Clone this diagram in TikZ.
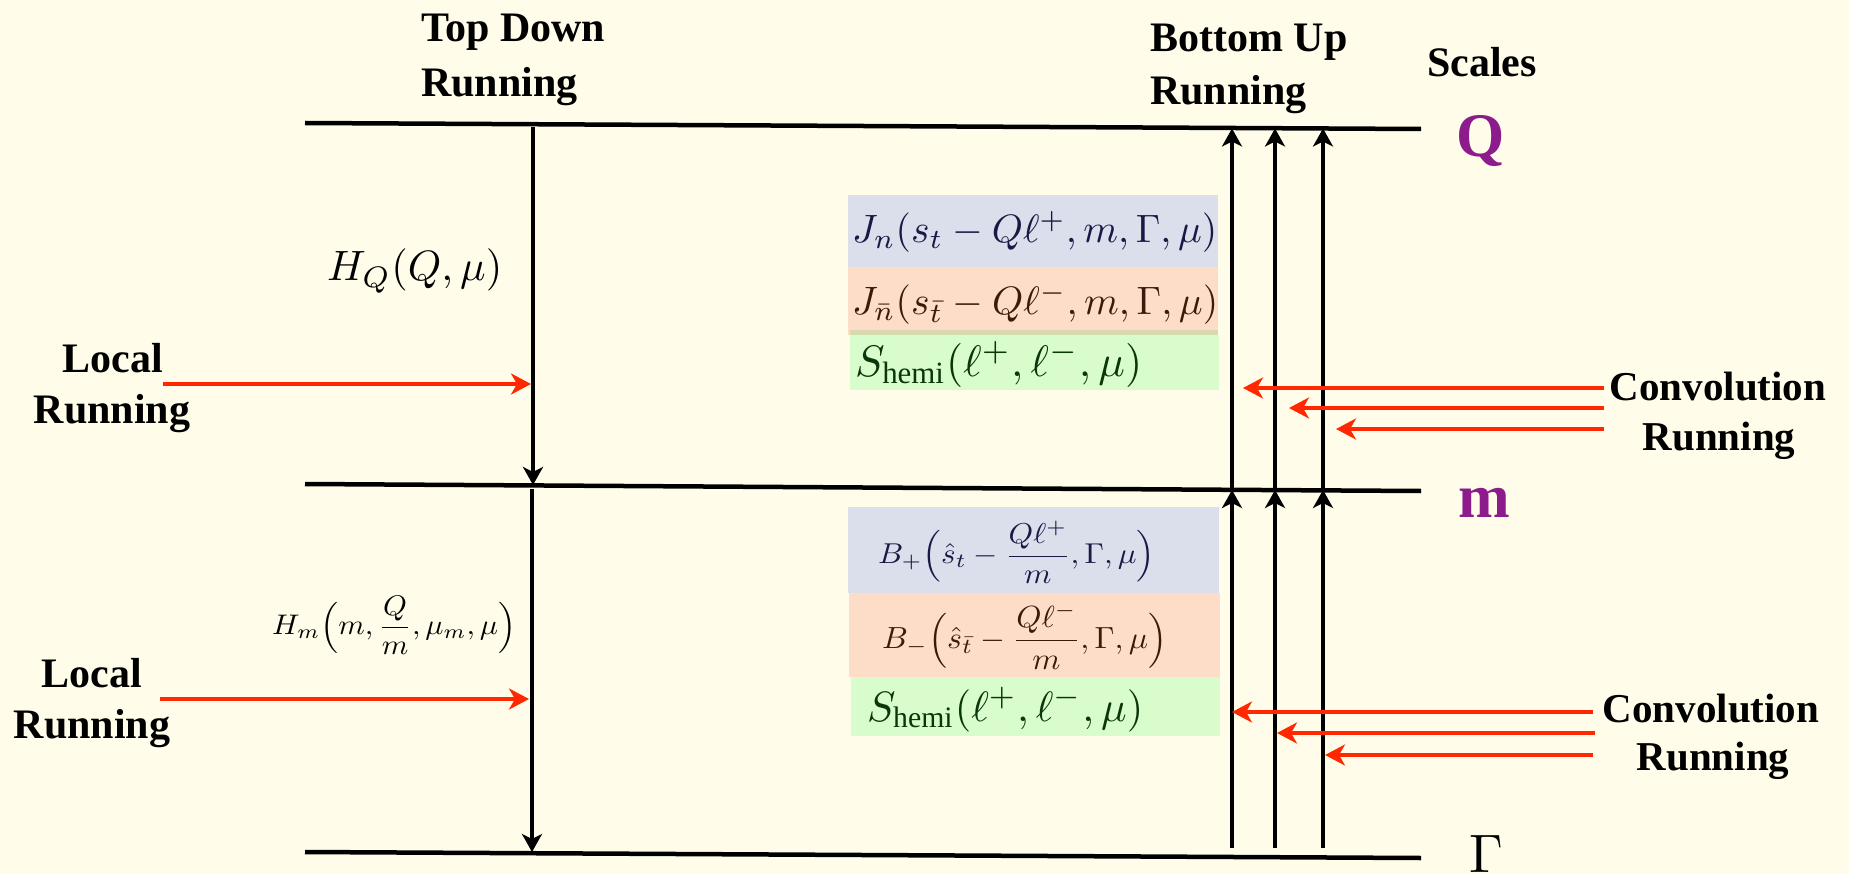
\documentclass[tikz,border=0pt]{standalone}
\usepackage{fontspec}
\setmainfont{Liberation Serif}
\usepackage{amsmath}
\usepackage{graphicx}
\usetikzlibrary{arrows.meta}
\definecolor{bg}{RGB}{255,253,233}
\definecolor{boxblue}{RGB}{218,223,235}
\definecolor{boxorange}{RGB}{253,221,200}
\definecolor{boxgreen}{RGB}{217,252,204}
\definecolor{stripolive}{RGB}{214,218,172}
\definecolor{redarrow}{RGB}{255,40,0}
\definecolor{scalepurple}{RGB}{140,28,140}
\definecolor{txtblue}{RGB}{25,25,70}
\definecolor{txtbrown}{RGB}{60,25,10}
\definecolor{txtgreen}{RGB}{10,55,10}
\begin{document}
\begin{tikzpicture}[x=1pt,y=-1pt,
  lbl/.style={inner sep=0pt, font=\fontsize{42}{50}\selectfont\bfseries},
  convlbl/.style={inner sep=0pt, font=\fontsize{41}{50}\selectfont\bfseries},
  scalelbl/.style={inner sep=0pt, text=scalepurple, font=\fontsize{62}{70}\selectfont\bfseries},
  scaleline/.style={line width=4.5pt, black},
  flowarrow/.style={line width=4pt, black, -{Stealth[length=18pt,width=20pt,inset=5pt]}},
  redarr/.style={line width=4.5pt, redarrow, -{Stealth[length=20pt,width=21pt,inset=6pt]}},
  mathlbl/.style={inner sep=0pt},
  colbox/.style={inner sep=0pt, anchor=north west}
]
\useasboundingbox (0,0) rectangle (1849,874);
\fill[bg] (0,0) rectangle (1849,874);

% scale lines
\coordinate (QL) at (305,123); \coordinate (QR) at (1421,129);
\coordinate (mL) at (305,484); \coordinate (mR) at (1421,491);
\coordinate (GL) at (305,852); \coordinate (GR) at (1421,858);
\draw[scaleline] (QL) -- (QR);
\draw[scaleline] (mL) -- (mR);
\draw[scaleline] (GL) -- (GR);

% colored boxes (upper)
\node[colbox, fill=boxblue, minimum width=370pt, minimum height=72pt] (bJn) at (848,195) {};
\node[colbox, fill=boxorange, minimum width=370pt, minimum height=68pt] (bJnb) at (848,267) {};
\node[colbox, fill=boxgreen, minimum width=369pt, minimum height=55pt] (bS1) at (850,335) {};
\node[colbox, fill=stripolive, minimum width=368pt, minimum height=5pt] (strip) at (850,330) {};
% colored boxes (lower)
\node[colbox, fill=boxblue, minimum width=371pt, minimum height=86pt] (bBp) at (848,507) {};
\node[colbox, fill=boxorange, minimum width=371pt, minimum height=84pt] (bBm) at (849,593) {};
\node[colbox, fill=boxgreen, minimum width=369pt, minimum height=59pt] (bS2) at (851,677) {};

% formulas
\node[mathlbl, anchor=base west] (HQ) at (327,281) {\resizebox{175pt}{!}{$H_Q(Q,\mu)$}};
\node[mathlbl, anchor=west] (Hm) at (272,625) {\resizebox*{244pt}{58pt}{$H_m\Big(m,\dfrac{Q}{m},\mu_m,\mu\Big)$}};
\node[mathlbl, anchor=base west, text=txtblue] (Jn) at (852,243) {\resizebox{365pt}{!}{$J_n(s_t-Q\ell^+,m,\Gamma,\mu)$}};
\node[mathlbl, anchor=base west, text=txtbrown] (Jnb) at (852,315) {\resizebox{366pt}{!}{$J_{\bar n}(s_{\bar t}-Q\ell^-,m,\Gamma,\mu)$}};
\node[mathlbl, anchor=base west, text=txtgreen] (S1) at (855,377) {\resizebox{287pt}{!}{$S_{\mathrm{hemi}}(\ell^+,\ell^-,\mu)$}};
\node[mathlbl, anchor=west, text=txtblue] (Bp) at (878,552) {\resizebox*{277pt}{62pt}{$B_+\Big(\hat s_t-\dfrac{Q\ell^+}{m},\Gamma,\mu\Big)$}};
\node[mathlbl, anchor=west, text=txtbrown] (Bm) at (882,636) {\resizebox*{285pt}{66pt}{$B_-\Big(\hat s_{\bar t}-\dfrac{Q\ell^-}{m},\Gamma,\mu\Big)$}};
\node[mathlbl, anchor=base west, text=txtgreen] (S2) at (867,721) {\resizebox{276pt}{!}{$S_{\mathrm{hemi}}(\ell^+,\ell^-,\mu)$}};

% text labels
\node[lbl, anchor=base west] (td1) at (421,42) {Top Down};
\node[lbl, anchor=base west] (td2) at (421,97) {Running};
\node[lbl, anchor=base west] (bu1) at (1150,52) {Bottom Up};
\node[lbl, anchor=base west] (bu2) at (1150,105) {Running};
\node[lbl, anchor=base west] (sc) at (1427,77) {Scales};
\node[lbl, anchor=base] (lr1a) at (113,372) {Local};
\node[lbl, anchor=base] (lr1b) at (112,423) {Running};
\node[lbl, anchor=base] (lr2a) at (92,687) {Local};
\node[lbl, anchor=base] (lr2b) at (92,738) {Running};
\node[convlbl, anchor=base] (cr1a) at (1718,400) {Convolution};
\node[convlbl, anchor=base] (cr1b) at (1719,450) {Running};
\node[convlbl, anchor=base] (cr2a) at (1711,722) {Convolution};
\node[convlbl, anchor=base] (cr2b) at (1713,770) {Running};

% scale names
\node[scalelbl, anchor=base west] (sQ) at (1456,157) {Q};
\node[scalelbl, anchor=base west] (sm) at (1458,517) {m};
\node[inner sep=0pt, anchor=base west] (sG) at (1469,872) {\resizebox{!}{37pt}{$\Gamma$}};

% top-down arrows
\coordinate (tdA) at (533,127); \coordinate (tdB) at (533,485);
\coordinate (tdC) at (532,489); \coordinate (tdD) at (532,852);
\draw[flowarrow] (tdA) -- (tdB);
\draw[flowarrow] (tdC) -- (tdD);

% bottom-up arrows
\foreach \xx/\nm in {1232/a,1275/b,1323/c}{
  \coordinate (bu\nm1) at (\xx,848);
  \coordinate (bu\nm2) at (\xx,490);
  \coordinate (bu\nm3) at (\xx,488);
  \coordinate (bu\nm4) at (\xx,128.5);
  \draw[flowarrow] (bu\nm1) -- (bu\nm2);
  \draw[flowarrow] (bu\nm3) -- (bu\nm4);
}

% local running arrows
\coordinate (l1s) at (163,384); \coordinate (l1e) at (531,384);
\coordinate (l2s) at (160,699); \coordinate (l2e) at (529,699);
\draw[redarr] (l1s) -- (l1e);
\draw[redarr] (l2s) -- (l2e);

% convolution running arrows
\coordinate (c1s) at (1604,388); \coordinate (c1e) at (1243,388);
\coordinate (c2s) at (1604,408); \coordinate (c2e) at (1289,408);
\coordinate (c3s) at (1604,429); \coordinate (c3e) at (1336,429);
\coordinate (c4s) at (1593,712); \coordinate (c4e) at (1232,712);
\coordinate (c5s) at (1595,733); \coordinate (c5e) at (1277,733);
\coordinate (c6s) at (1593,755); \coordinate (c6e) at (1325,755);
\foreach \i in {1,...,6}{\draw[redarr] (c\i s) -- (c\i e);}
\end{tikzpicture}
\end{document}
